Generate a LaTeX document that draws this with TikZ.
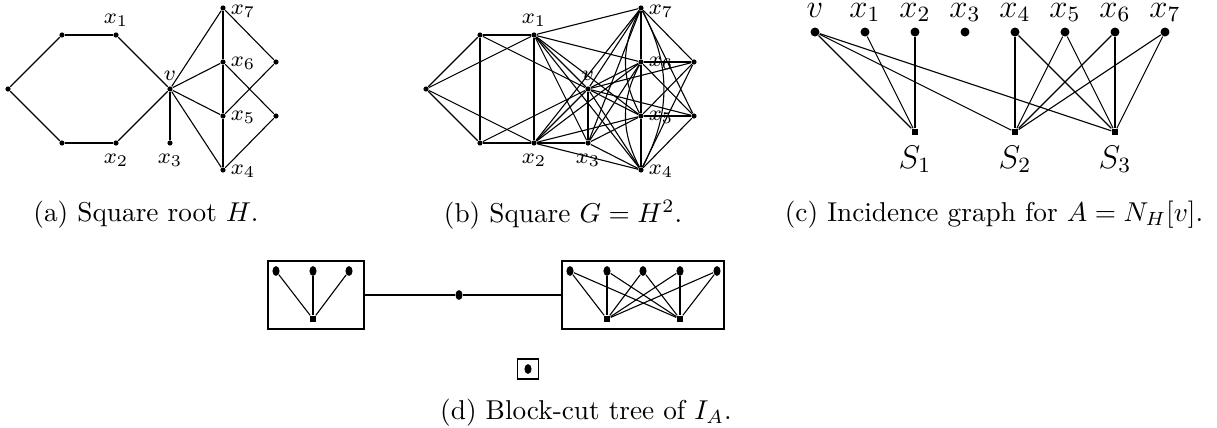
\documentclass[tikz,border=0pt]{standalone}
\usetikzlibrary{shapes.geometric}
\tikzset{
  vtx/.style={circle,fill,inner sep=0pt,minimum size=1.9pt},
  bigvtx/.style={circle,fill,inner sep=0pt,minimum size=3.3pt},
  ovvtx/.style={ellipse,fill,inner sep=0pt,minimum width=2.6pt,minimum height=3.6pt},
  sqv/.style={rectangle,fill,inner sep=0pt,minimum size=2.3pt},
  dsqv/.style={rectangle,fill,inner sep=0pt,minimum size=2.3pt},
  lbl/.style={inner sep=0pt,font=\footnotesize},
  clbl/.style={inner sep=0pt,anchor=base,font=\large},
  blockbox/.style={draw,inner sep=0pt,line width=0.5pt},
  captxt/.style={inner sep=0pt}
}
\begin{document}
\begin{tikzpicture}[x=0.3667pt,y=-0.3667pt]
\clip (0,0) rectangle (1217,427);
\foreach \p/\s in {a/0,b/418}{
  \node[vtx] (\p-L) at (8+\s,89) {};
  \node[vtx] (\p-A) at (62+\s,35) {};
  \node[vtx] (\p-x1) at (116+\s,35) {};
  \node[vtx] (\p-B) at (62+\s,143) {};
  \node[vtx] (\p-x2) at (116+\s,143) {};
  \node[vtx] (\p-v) at (170+\s,89) {};
  \node[vtx] (\p-x3) at (170+\s,143) {};
  \node[vtx] (\p-x7) at (223+\s,8) {};
  \node[vtx] (\p-x6) at (223+\s,62) {};
  \node[vtx] (\p-x5) at (223+\s,116) {};
  \node[vtx] (\p-x4) at (223+\s,170) {};
  \node[vtx] (\p-R1) at (276+\s,62) {};
  \node[vtx] (\p-R2) at (276+\s,116) {};
  \node[lbl] (\p-l1) at (116+\s,20) {$x_1$};
  \node[lbl] (\p-l2) at (116+\s,160) {$x_2$};
  \node[lbl] (\p-l3) at (170+\s,160) {$x_3$};
  \node[lbl] (\p-lv) at (170+\s,76) {$v$};
  \node[lbl] (\p-l7) at (243+\s,11) {$x_7$};
  \node[lbl] (\p-l6) at (243+\s,63) {$x_6$};
  \node[lbl] (\p-l5) at (243+\s,117) {$x_5$};
  \node[lbl] (\p-l4) at (243+\s,171) {$x_4$};
  \foreach \u/\w in {L/A,A/x1,x1/v,v/x2,x2/B,B/L,v/x3,v/x4,v/x5,v/x6,v/x7,x7/x6,x6/x5,x5/x4,x7/R1,x5/R1,x6/R2,x4/R2}
    \draw (\p-\u) -- (\p-\w);
}
\foreach \u/\w in {L/x1,L/x2,A/B,A/v,B/v,x1/x2,x1/x3,x1/x4,x1/x5,x1/x6,x1/x7,x2/x3,x2/x4,x2/x5,x2/x6,x2/x7,v/R1,v/R2,x3/x4,x3/x5,x3/x6,x3/x7,x7/R2,x6/R1,x5/R2,x4/R1}
  \draw (b-\u) -- (b-\w);
\draw (b-x7) to[bend left=28] (b-x4);
\draw (b-x7) to[bend right=28] (b-x5);
\draw (b-x6) to[bend right=28] (b-x4);

\foreach \n/\x/\t in {v/815/v,x1/865/x_1,x2/915/x_2,x3/965/x_3,x4/1015/x_4,x5/1065/x_5,x6/1115/x_6,x7/1165/x_7}{
  \node[bigvtx] (c-\n) at (\x,32) {};
  \node[clbl] (c-\n-l) at (\x,17) {$\t$};
}
\foreach \n/\x in {1/915,2/1015,3/1115}{
  \node[sqv] (c-S\n) at (\x,132) {};
  \node[clbl] (c-S\n-l) at (\x,168) {$S_\n$};
}
\foreach \u/\w in {v/S1,x1/S1,x2/S1,v/S2,x4/S2,x5/S2,x6/S2,x7/S2,v/S3,x4/S3,x5/S3,x6/S3,x7/S3}
  \draw (c-\u) -- (c-\w);

\node[blockbox,minimum width=35.2pt,minimum height=24.9pt] (d-lb) at (316,295) {};
\node[blockbox,minimum width=59.4pt,minimum height=24.9pt] (d-rb) at (643,295) {};
\node[ovvtx] (d-cut) at (459,295) {};
\draw (d-lb) -- (d-cut) -- (d-rb);
\foreach \i/\x in {1/276,2/313,3/349}
  \node[ovvtx] (d-l\i) at (\x,271) {};
\node[dsqv] (d-ls) at (313,319) {};
\foreach \i in {1,2,3}
  \draw (d-l\i) -- (d-ls);
\foreach \i/\x in {1/570,2/607,3/643,4/680,5/717}
  \node[ovvtx] (d-r\i) at (\x,271) {};
\node[dsqv] (d-rs1) at (607,319) {};
\node[dsqv] (d-rs2) at (680,319) {};
\foreach \i in {1,...,5}{
  \draw (d-r\i) -- (d-rs1);
  \draw (d-r\i) -- (d-rs2);
}
\node[blockbox,minimum width=7.7pt,minimum height=7.3pt] (d-iso) at (528,369) {};
\node[ovvtx] (d-isov) at (528,369) {};

\node[captxt] (cap-a) at (146,215) {(a) Square root $H$.};
\node[captxt] (cap-b) at (563,215) {(b) Square $G=H^2$.};
\node[captxt] (cap-c) at (994,215) {(c) Incidence graph for $A=N_H[v]$.};
\node[captxt] (cap-d) at (586,413) {(d) Block-cut tree of $I_A$.};
\end{tikzpicture}
\end{document}
